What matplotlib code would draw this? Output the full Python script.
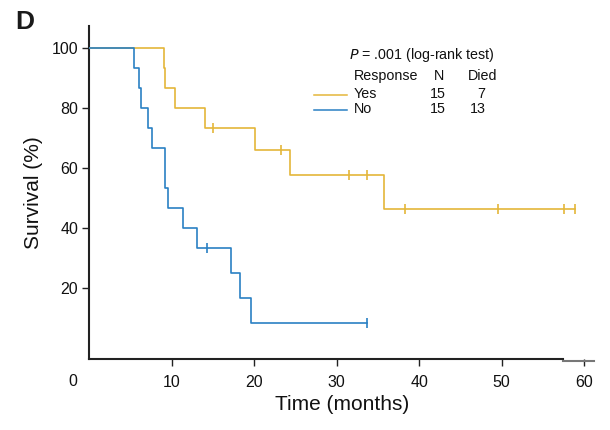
import matplotlib
matplotlib.use("Agg")
import matplotlib.pyplot as plt

# Yes (responders) curve: step times and survival levels (%)
yes_times = [0, 9.0, 9.2, 10.4, 14.0, 20.1, 24.3, 35.7, 58.9]
yes_surv = [100, 93.3, 86.7, 80.0, 73.3, 66.0, 57.8, 46.2, 46.2]
yes_cens_t = [15.0, 23.3, 31.5, 33.7, 38.3, 49.5, 57.6, 58.9]
yes_cens_s = [73.3, 66.0, 57.8, 57.8, 46.2, 46.2, 46.2, 46.2]

# No (non-responders) curve
no_times = [0, 5.4, 6.0, 6.3, 7.1, 7.65, 9.15, 9.6, 11.4, 13.1, 17.2, 18.3, 19.6, 33.7]
no_surv = [100, 93.3, 86.7, 80.0, 73.3, 66.7, 53.3, 46.7, 40.0, 33.3, 25.0, 16.7, 8.3, 8.3]
no_cens_t = [14.3, 33.7]
no_cens_s = [33.3, 8.3]

x_ticks = [10, 20, 30, 40, 50, 60]
y_ticks = [20, 40, 60, 80, 100]

YEL = "#E4B63A"
BLU = "#2A80C4"
AX = "#222222"
FONT = ["Liberation Sans", "DejaVu Sans"]
plt.rcParams["font.family"] = FONT

fig = plt.figure(figsize=(6.1, 4.3), dpi=100)
ax = fig.add_axes([0.1464, 0.1644, 0.8274, 0.7751])
ax.set_xlim(0, 61.2)
ax.set_ylim(-3.77, 107.3)

ax.step(yes_times, yes_surv, where="post", color=YEL, lw=1.2, zorder=3)
ax.step(no_times, no_surv, where="post", color=BLU, lw=1.2, zorder=3)
ax.plot(yes_cens_t, yes_cens_s, ls="none", marker="|", ms=7, mew=1.2, color=YEL, zorder=4)
ax.plot(no_cens_t, no_cens_s, ls="none", marker="|", ms=7, mew=1.2, color=BLU, zorder=4)

for s in ["top", "right"]:
    ax.spines[s].set_visible(False)
ax.spines["left"].set_color(AX)
ax.spines["left"].set_linewidth(1.5)
ax.spines["bottom"].set_color(AX)
ax.spines["bottom"].set_linewidth(1.5)
ax.spines["bottom"].set_bounds(0, 57.4)
ax.plot([57.4, 61.2], [-4.3, -4.3], color="#777777", lw=1.5, clip_on=False, zorder=5)

ax.set_xticks(x_ticks)
ax.set_yticks(y_ticks)
ax.tick_params(axis="both", direction="out", length=5, width=1.0, color=AX,
               labelsize=11.5, labelcolor="#111111", pad=6)
ax.tick_params(axis="y", pad=3)
ax.text(-2.06, -0.045, "0", transform=ax.get_xaxis_transform(), ha="center", va="top",
        fontsize=11.5, color="#111111")

ax.set_xlabel("Time (months)", fontsize=15, color="#111111", labelpad=4)
ax.set_ylabel("Survival (%)", fontsize=15, color="#111111", labelpad=6)

fig.text(15 / 610, 1 - 22 / 430, "D", fontsize=19, fontweight="bold",
         color="#1a1a1a", va="center", ha="left")

def fx(px):
    return px / 610

def fy(py):
    return 1 - py / 430

fs = 10.3
fig.text(fx(349), fy(55), "$P$ = .001 (log-rank test)", fontsize=fs, va="center", ha="left",
         color="#111111")
fig.text(fx(354), fy(76), "Response", fontsize=fs, va="center", ha="left", color="#111111")
fig.text(fx(439), fy(76), "N", fontsize=fs, va="center", ha="center", color="#111111")
fig.text(fx(483), fy(76), "Died", fontsize=fs, va="center", ha="center", color="#111111")

rows = [("Yes", "15", "7", YEL, 94), ("No", "15", "13", BLU, 109)]
for name, n, died, col, py in rows:
    fig.text(fx(354), fy(py), name, fontsize=fs, va="center", ha="left", color="#111111")
    fig.text(fx(446), fy(py), n, fontsize=fs, va="center", ha="right", color="#111111")
    fig.text(fx(485.5), fy(py), died, fontsize=fs, va="center", ha="right", color="#111111")
    fig.add_artist(plt.Line2D([fx(314), fx(347)], [fy(py + 1), fy(py + 1)], color=col, lw=1.1))

fig.savefig("out.png", dpi=100)
